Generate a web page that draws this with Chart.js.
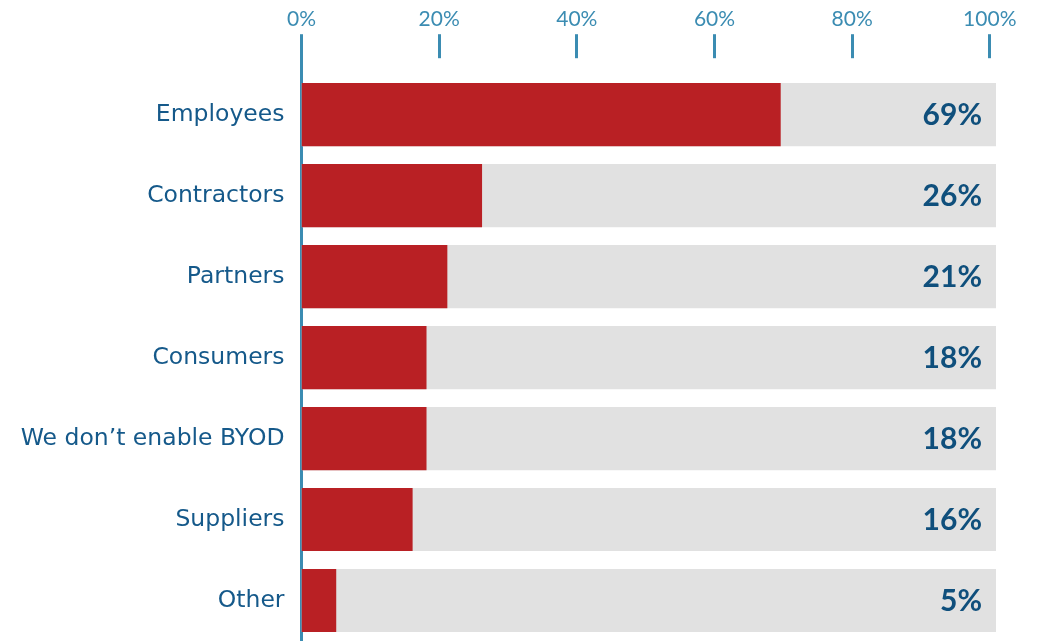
<!DOCTYPE html>
<html>
<head>
<meta charset="utf-8">
<script src="https://cdn.jsdelivr.net/npm/chart.js@4"></script>
<style>
  html, body { margin: 0; padding: 0; background: #fff; }
  #wrap { width: 1038px; height: 641px; }
</style>
</head>
<body>
<div id="wrap"><canvas id="byod"></canvas></div>
<script>
const categorias = ['Employees', 'Contractors', 'Partners', 'Consumers', 'We don\u2019t enable BYOD', 'Suppliers', 'Other'];
const percentuais = [69, 26, 21, 18, 18, 16, 5];
const trilha = [100, 100, 100, 100, 100, 100, 100];
const ticksTopo = [0, 20, 40, 60, 80, 100];

const azulClaro = '#3b8cb2';
const azulEscuro = '#15598a';

// writes the % value at the right end of each grey bar
const rotulosValor = {
  id: 'rotulosValor',
  afterDatasetsDraw(chart) {
    const meta = chart.getDatasetMeta(1);
    const c = chart.ctx;
    c.save();
    c.font = 'bold 30px Lato';
    c.fillStyle = '#0f4f7c';
    c.textAlign = 'right';
    c.textBaseline = 'middle';
    meta.data.forEach((bar, i) => {
      c.fillText(percentuais[i] + '%', bar.x - 14, bar.y + 1);
    });
    c.restore();
  }
};

new Chart(document.getElementById('byod'), {
  type: 'bar',
  data: {
    labels: categorias,
    datasets: [
      {
        data: percentuais,
        backgroundColor: '#b92024',
        grouped: false,
        order: 1,
        xAxisID: 'x',
        barPercentage: 0.78,
        categoryPercentage: 1
      },
      {
        data: trilha,
        backgroundColor: '#e1e1e1',
        grouped: false,
        order: 2,
        xAxisID: 'x',
        barPercentage: 0.78,
        categoryPercentage: 1
      }
    ]
  },
  options: {
    indexAxis: 'y',
    responsive: true,
    maintainAspectRatio: false,
    animation: false,
    layout: { padding: { top: 5, right: 42, bottom: 0, left: 0 } },
    plugins: { legend: { display: false }, tooltip: { enabled: false } },
    scales: {
      x: { display: false, min: 0, max: 100 },
      xTop: {
        position: 'top',
        min: 0,
        max: 100.9,
        afterBuildTicks: s => { s.ticks = ticksTopo.map(v => ({ value: v })); },
        border: { display: false },
        grid: {
          drawOnChartArea: false,
          tickLength: 40,
          tickWidth: 3,
          tickColor: azulClaro,
          tickBorderDash: ctx => ctx.index === 0 ? [] : [24, 17]
        },
        ticks: {
          padding: 2,
          color: azulClaro,
          font: { family: 'Lato', size: 21 },
          callback: v => v + '%'
        }
      },
      y: {
        z: 1,
        afterFit: s => {
          s.width = 301.5;
          // bars run down to the bottom edge, no room kept for label overhang
          s.paddingTop = 0;
          s.paddingBottom = 0;
        },
        border: { display: true, color: azulClaro, width: 3 },
        grid: { display: false },
        ticks: {
          padding: 9,
          color: azulEscuro,
          font: { family: 'DejaVu Sans', size: 23.5 }
        }
      }
    }
  },
  plugins: [rotulosValor]
});
</script>
</body>
</html>
